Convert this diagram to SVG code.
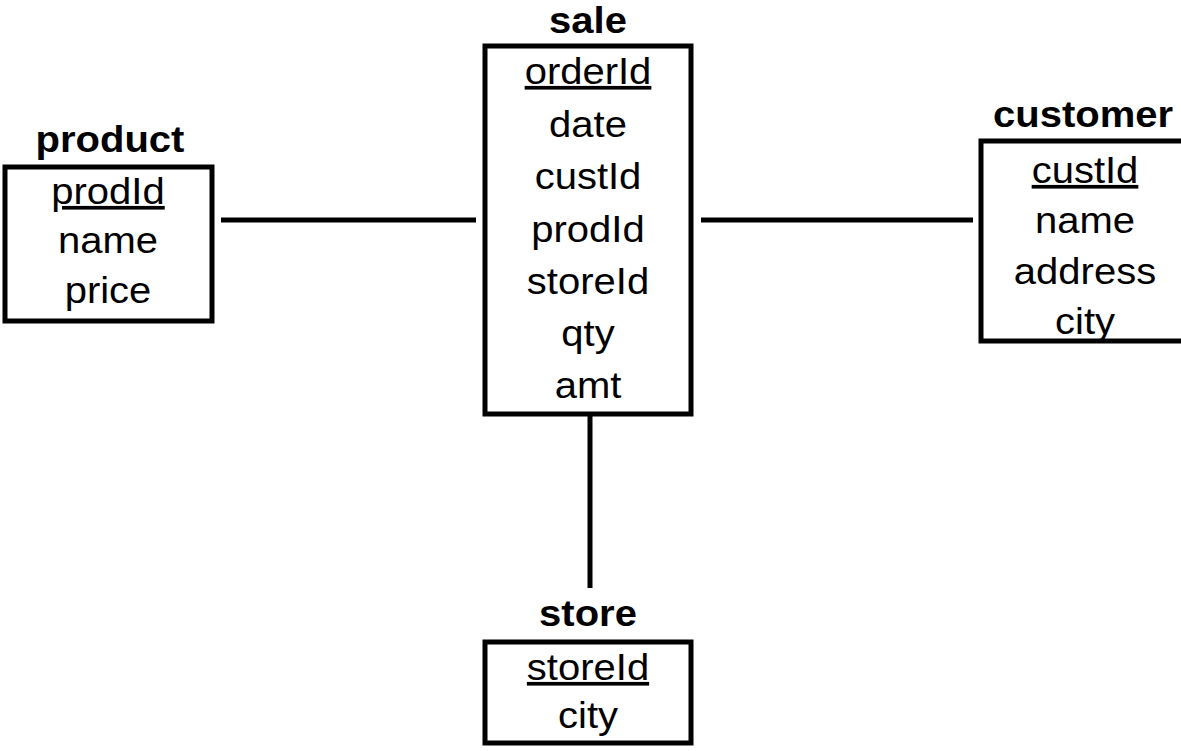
<svg xmlns="http://www.w3.org/2000/svg" width="1181" height="751" viewBox="0 0 1181 751">
<style>
.box{fill:#fff;stroke:#000;stroke-width:5}
.t{font-family:"Liberation Sans",Arial,sans-serif;font-size:40px;text-anchor:middle;fill:#000}
.h{font-weight:bold}
.k{text-decoration:underline}
.c{stroke:#000;stroke-width:5;fill:none}
</style>
<rect width="1181" height="751" fill="#fff"/>
<g id="connectors">
<line class="c" x1="221" y1="220" x2="476" y2="220"/>
<line class="c" x1="701" y1="220" x2="973" y2="220"/>
<line class="c" x1="590" y1="414" x2="590" y2="588"/>
</g>
<g id="product">
<text class="t h" transform="translate(110,152) scale(1,0.92)">product</text>
<rect class="box" x="5" y="167" width="207" height="154"/>
<text class="t k" transform="translate(108,204) scale(1,0.92)">prodId</text>
<text class="t" transform="translate(108,253) scale(1,0.92)">name</text>
<text class="t" transform="translate(108,303) scale(1,0.92)">price</text>
</g>
<g id="sale">
<text class="t h" transform="translate(588,32.5) scale(1,0.9)">sale</text>
<rect class="box" x="485" y="46" width="206" height="368"/>
<text class="t k" transform="translate(588,84) scale(1,0.92)">orderId</text>
<text class="t" transform="translate(588,137) scale(1,0.92)">date</text>
<text class="t" transform="translate(588,189) scale(1,0.92)">custId</text>
<text class="t" transform="translate(588,242) scale(1,0.92)">prodId</text>
<text class="t" transform="translate(588,294) scale(1,0.92)">storeId</text>
<text class="t" transform="translate(588,346) scale(1,0.92)">qty</text>
<text class="t" transform="translate(588,398) scale(1,0.92)">amt</text>
</g>
<g id="customer">
<text class="t h" transform="translate(1083,127) scale(1,0.92)">customer</text>
<rect class="box" x="981" y="141" width="230" height="200"/>
<text class="t k" transform="translate(1085,183) scale(1,0.92)">custId</text>
<text class="t" transform="translate(1085,233) scale(1,0.92)">name</text>
<text class="t" transform="translate(1085,284) scale(1,0.92)">address</text>
<text class="t" transform="translate(1085,334) scale(1,0.92)">city</text>
</g>
<g id="store">
<text class="t h" transform="translate(588,626) scale(1,0.92)">store</text>
<rect class="box" x="485" y="642" width="206" height="101"/>
<text class="t k" transform="translate(588,680) scale(1,0.92)">storeId</text>
<text class="t" transform="translate(588,728) scale(1,0.92)">city</text>
</g>
</svg>
